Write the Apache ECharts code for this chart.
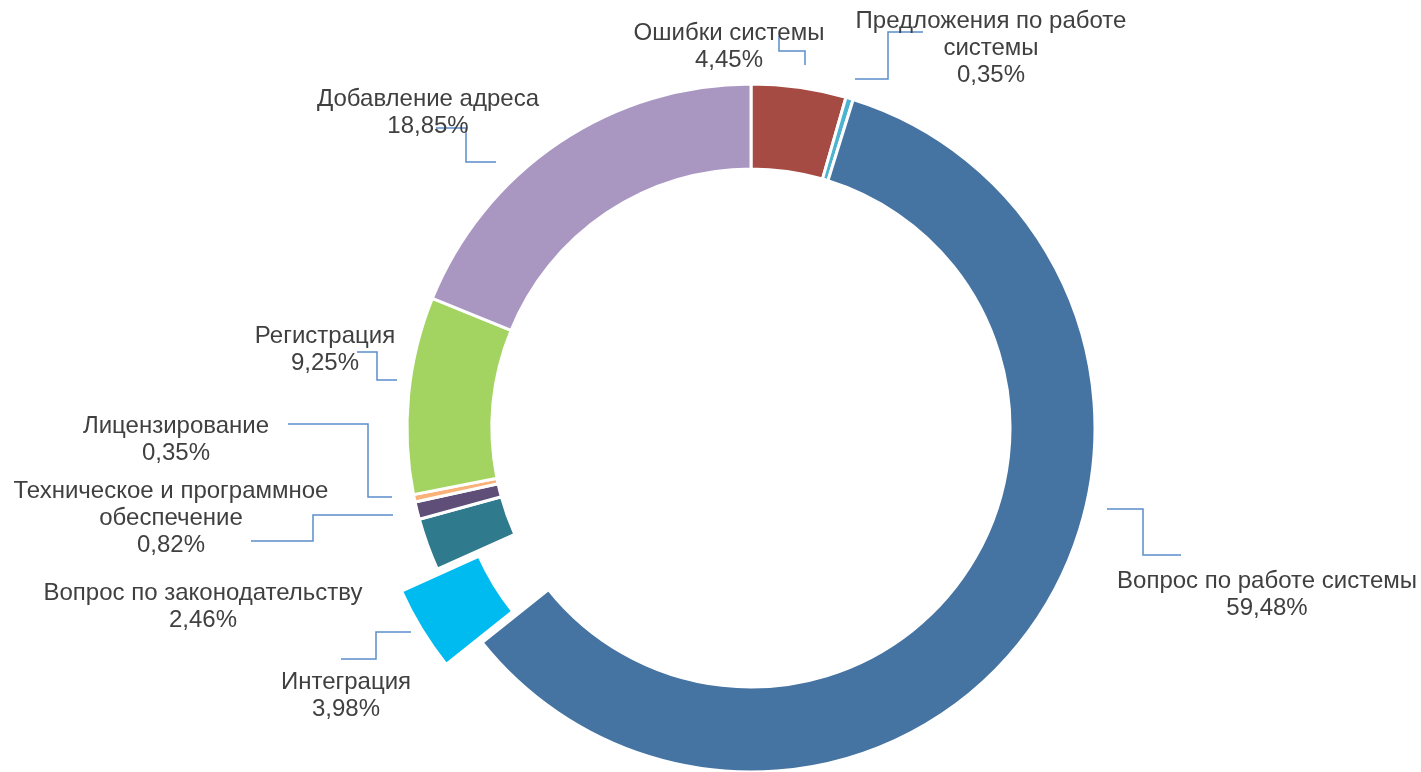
<!DOCTYPE html>
<html>
<head>
<meta charset="utf-8">
<title>Обращения по темам</title>
<script src="https://cdn.jsdelivr.net/npm/echarts@6/dist/echarts.min.js"></script>
<style>
  html, body { margin: 0; padding: 0; background: #fff; }
  #chart { width: 1421px; height: 772px; }
</style>
</head>
<body>
<div id="chart"></div>
<script>
// slices, clockwise from 12 o'clock
const categories = [
  'Ошибки системы',
  'Предложения по работе\nсистемы',
  'Вопрос по работе системы',
  'Интеграция',
  'Вопрос по законодательству',
  'Техническое и программное\nобеспечение',
  'Лицензирование',
  'Регистрация',
  'Добавление адреса'
];
const shares = [4.45, 0.35, 59.48, 3.98, 2.46, 0.82, 0.35, 9.25, 18.85];
const explodedName = 'Интеграция';

const colors = [
  '#A64B43', '#4DB3CE', '#4674A2', '#00BBF0', '#2F7B8D',
  '#5F4E78', '#F8B27A', '#A3D462', '#A997C2'
];

// label placement (manually moved labels in the source chart)
const labelPos = [
  [729, 47], [991, 48], [1267, 595], [346, 696], [203, 607],
  [171, 518], [176, 440], [325, 350], [428, 113]
];
// elbow leader lines
const leaderLines = [
  [[779, 36], [779, 51], [805, 51], [805, 65]],
  [[923, 32], [888, 32], [888, 79], [855, 79]],
  [[1107, 509], [1143, 509], [1143, 555], [1181, 555]],
  [[411, 632], [376, 632], [376, 659], [341, 659]],
  null,
  [[393, 515], [313, 515], [313, 541], [251, 541]],
  [[288, 424], [368, 424], [368, 497], [392, 497]],
  [[357, 352], [377, 352], [377, 380], [397, 380]],
  [[436, 128], [466, 128], [466, 162], [496, 162]]
];

const CENTER = [751, 428];
const RADIUS = [259, 344];
const EXPLODE = 42;
const hidden = 'rgba(0,0,0,0)';

// direction of the exploded slice, from its mid angle
const total = shares.reduce((a, b) => a + b, 0);
const ex = categories.indexOf(explodedName);
const before = shares.slice(0, ex).reduce((a, b) => a + b, 0);
const midAngle = (before + shares[ex] / 2) / total * 2 * Math.PI;
const explodedCenter = [
  CENTER[0] + Math.sin(midAngle) * EXPLODE,
  CENTER[1] - Math.cos(midAngle) * EXPLODE
];

const chart = echarts.init(document.getElementById('chart'));

const option = {
  animation: false,
  series: [
    {
      type: 'pie',
      center: CENTER,
      radius: RADIUS,
      startAngle: 90,
      clockwise: true,
      avoidLabelOverlap: false,
      itemStyle: { borderColor: '#ffffff', borderWidth: 3 },
      label: {
        show: true,
        position: 'outside',
        color: '#404040',
        fontFamily: '"Liberation Sans", Arial, sans-serif',
        fontSize: 24,
        lineHeight: 27,
        align: 'center',
        formatter: (p) => p.name + '\n' + p.value.toFixed(2).replace('.', ',') + '%'
      },
      labelLine: {
        show: true,
        smooth: false,
        lineStyle: { color: '#5B8DCB', width: 1.5 }
      },
      emphasis: { disabled: true },
      labelLayout: (params) => {
        const i = params.dataIndex;
        const out = {
          x: labelPos[i][0],
          y: labelPos[i][1],
          align: 'center',
          verticalAlign: 'middle'
        };
        if (leaderLines[i]) out.labelLinePoints = leaderLines[i];
        return out;
      },
      data: categories.map((name, i) => ({
        name: name,
        value: shares[i],
        itemStyle: i === ex
          ? { color: hidden, borderWidth: 0 }
          : { color: colors[i] },
        labelLine: { show: leaderLines[i] !== null }
      }))
    },
    {
      // pulled-out slice
      type: 'pie',
      silent: true,
      center: explodedCenter,
      radius: RADIUS,
      startAngle: 90,
      clockwise: true,
      label: { show: false },
      labelLine: { show: false },
      emphasis: { disabled: true },
      data: categories.map((name, i) => ({
        name: name,
        value: shares[i],
        itemStyle: i === ex
          ? { color: colors[i], borderColor: '#ffffff', borderWidth: 3 }
          : { color: hidden, borderWidth: 0 }
      }))
    }
  ]
};

chart.setOption(option);
window.addEventListener('resize', () => chart.resize());
</script>
</body>
</html>
